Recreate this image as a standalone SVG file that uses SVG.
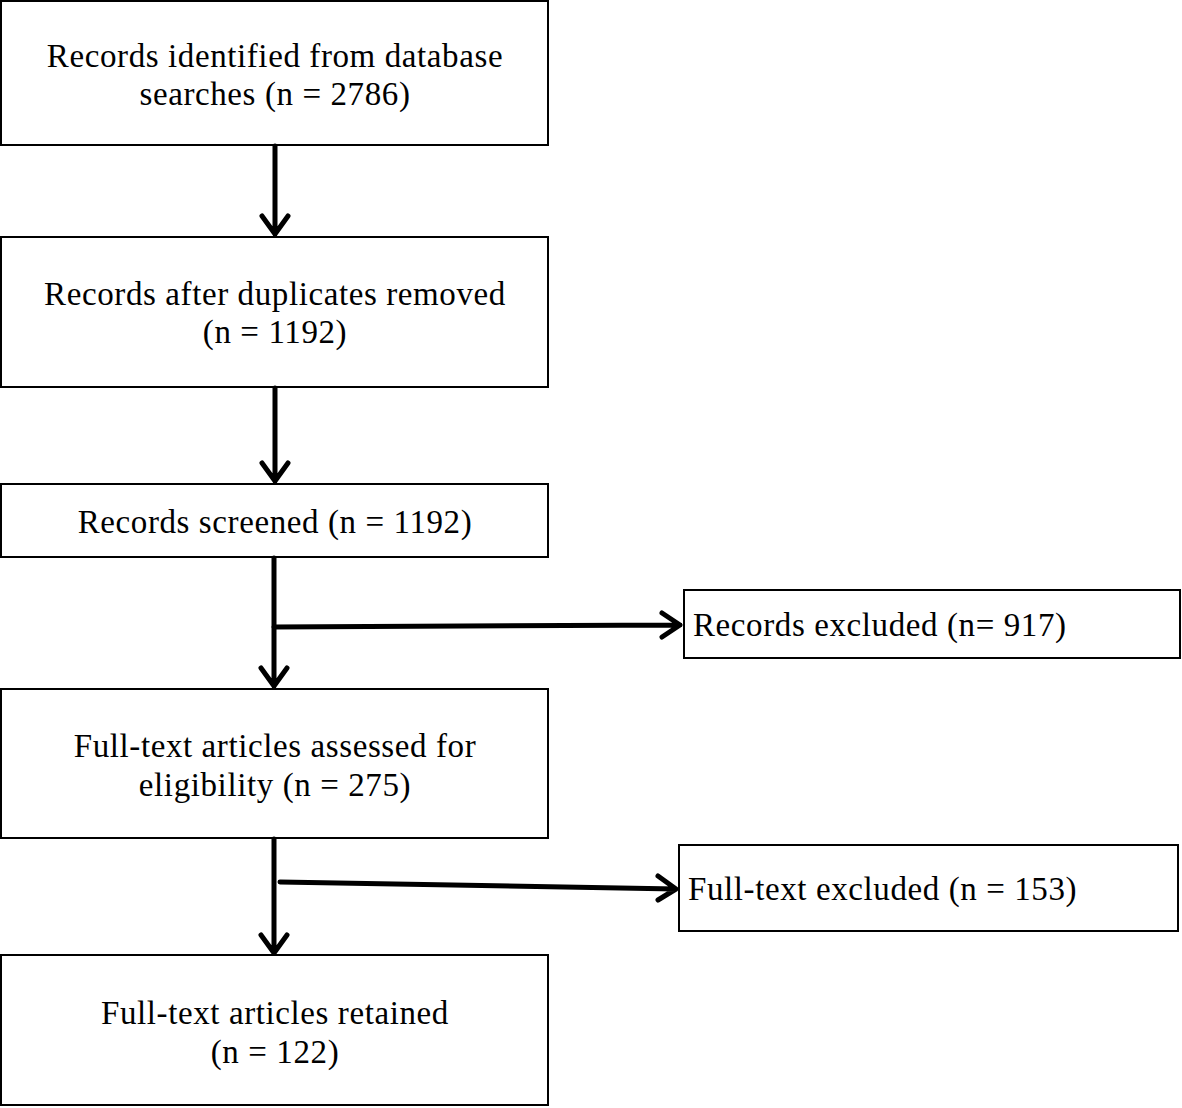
<svg xmlns="http://www.w3.org/2000/svg" width="1182" height="1108" viewBox="0 0 1182 1108">
<style>
.box{fill:#fff;stroke:#000;stroke-width:2}
.t{font-family:"Liberation Serif","Times New Roman",serif;font-size:33px;letter-spacing:0.6px;fill:#000;text-anchor:middle}
.tl{font-family:"Liberation Serif","Times New Roman",serif;font-size:33px;letter-spacing:0.6px;fill:#000}
.c{fill:none;stroke:#000;stroke-width:5;stroke-linecap:round;stroke-linejoin:round}
</style>
<g id="n1"><rect class="box" x="1" y="1" width="547" height="144"/><text class="t" x="275" y="67">Records identified from database</text><text class="t" x="275" y="105">searches (n = 2786)</text></g>
<g id="n2"><rect class="box" x="1" y="237" width="547" height="150"/><text class="t" x="275" y="305">Records after duplicates removed</text><text class="t" x="275" y="343">(n = 1192)</text></g>
<g id="n3"><rect class="box" x="1" y="484" width="547" height="73"/><text class="t" x="275" y="533">Records screened (n = 1192)</text></g>
<g id="n4"><rect class="box" x="684" y="590" width="496" height="68"/><text class="tl" x="693" y="636">Records excluded (n= 917)</text></g>
<g id="n5"><rect class="box" x="1" y="689" width="547" height="149"/><text class="t" x="275" y="757">Full-text articles assessed for</text><text class="t" x="275" y="796">eligibility (n = 275)</text></g>
<g id="n6"><rect class="box" x="679" y="845" width="499" height="86"/><text class="tl" x="688" y="900">Full-text excluded (n = 153)</text></g>
<g id="n7"><rect class="box" x="1" y="955" width="547" height="150"/><text class="t" x="275" y="1024">Full-text articles retained</text><text class="t" x="275" y="1063">(n = 122)</text></g>
<g id="connectors">
<path class="c" d="M275 146V234M262 216L275 234L288 216"/>
<path class="c" d="M275 388V481M262 463L275 481L288 463"/>
<path class="c" d="M274 558V686M261 668L274 686L287 668"/>
<path class="c" d="M274 627L680 625M662 613L680 625L662 637"/>
<path class="c" d="M274 839V953M261 935L274 953L287 935"/>
<path class="c" d="M280 882L676 889M658 876L676 889L658 900"/>
</g>
</svg>
